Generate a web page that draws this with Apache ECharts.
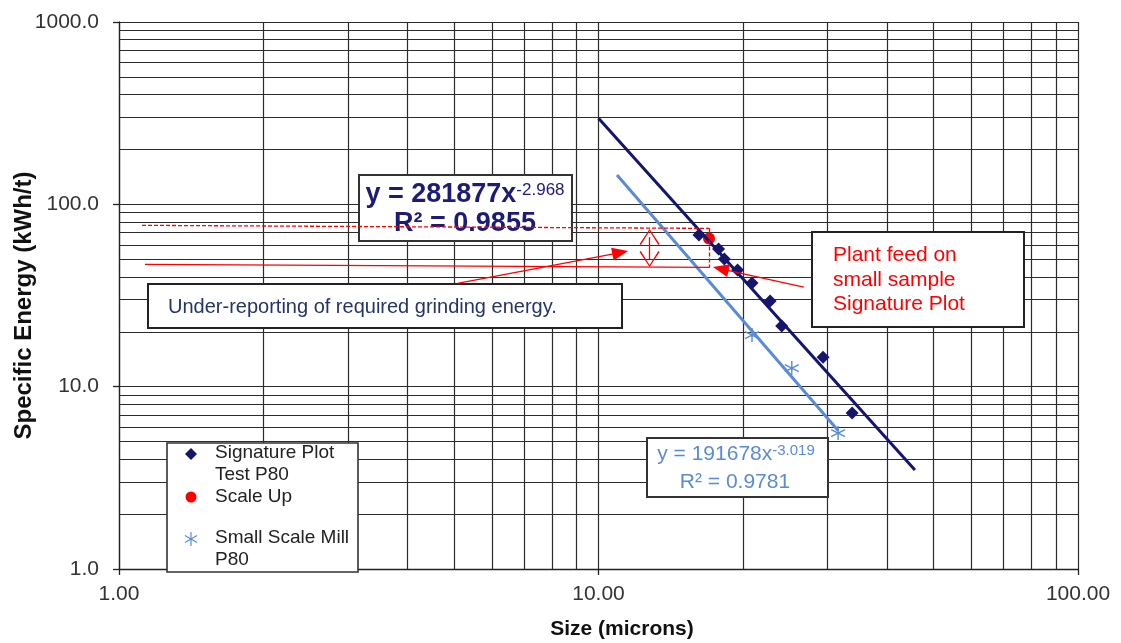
<!DOCTYPE html>
<html>
<head>
<meta charset="utf-8">
<script src="https://cdn.jsdelivr.net/npm/echarts@6/dist/echarts.min.js"></script>
<style>html,body{margin:0;padding:0;background:#fff}#c{width:1121px;height:643px}</style>
</head>
<body>
<div id="c"></div>
<script>
// ---- data ----
const sigSize   = [16.2, 17.8, 18.3, 19.5, 20.9, 22.8, 24.1, 29.4, 33.8];
const sigEnergy = [67.9, 56.9, 50.1, 43.6, 37.0, 29.5, 21.5, 14.5, 7.16];
const scaleUpSize   = [17.0];
const scaleUpEnergy = [65.0];
const smallSize   = [20.9, 25.3, 31.6];
const smallEnergy = [19.2, 12.65, 5.57];
// trend line end points (as drawn)
const sigFitSize   = [10.0, 45.7];
const sigFitEnergy = [297, 3.49];
const smallFitSize   = [10.93, 31.6];
const smallFitEnergy = [144.7, 5.75];
// axis ticks / minor grid values
const xMinor = [2,3,4,5,6,7,8,9,20,30,40,50,60,70,80,90];
const yMinor = [2,3,4,5,6,7,8,9,20,30,40,50,60,70,80,90,200,300,400,500,600,700,800,900];
// annotation geometry in data coordinates
const dashedH = [[1.117, 76.7], [17.05, 73.8]];
const dashedV = [[17.05, 73.8], [17.05, 45.1]];
const solidH  = [[1.133, 46.8], [17.05, 45.1]];
const arrowUnder = [[5.08, 36.9], [11.1, 54.4]];
const arrowPlant = [[26.8, 35.1], [17.99, 44.3]];
const dblArrow = [[12.78, 66.1], [12.78, 50.1]];

const zip = (a, b) => a.map((v, i) => [v, b[i]]);
const FONT = 'Liberation Sans, Arial, sans-serif';
const NAVY = '#15156e';
const LBLUE = '#5a8bd5';
const RED = '#ff0000';
const asterisk = 'path://M5,0L5,10M0.7,2.5L9.3,7.5M0.7,7.5L9.3,2.5';
const vHead = 'path://M10,0L0,15L1.2,16L10,2L18.8,16L20,15Z';

const chart = echarts.init(document.getElementById('c'), null, {renderer: 'canvas'});

function seg(p, opts) {
  return [Object.assign({coord: p[0], symbol: 'none'}, opts.start || {}, {lineStyle: opts.lineStyle}),
          Object.assign({coord: p[1], symbol: 'none'}, opts.end || {})];
}

const option = {
  animation: false,
  backgroundColor: '#fff',
  textStyle: {fontFamily: FONT},
  grid: {left: 119, right: 43, top: 22, bottom: 74, outerBoundsMode: 'none', containLabel: false},
  xAxis: {
    type: 'log', logBase: 10, min: 1, max: 100, z: 0,
    axisLine: {show: true, onZero: false, lineStyle: {color: '#222', width: 1.3}},
    axisTick: {show: true, length: 6, lineStyle: {color: '#222', width: 1.3}},
    axisLabel: {formatter: v => Number(v).toFixed(2), fontSize: 21, color: '#333', margin: 15, fontFamily: FONT},
    splitLine: {show: true, lineStyle: {color: '#2b2b2b', width: 1.2}},
    minorTick: {show: false}, minorSplitLine: {show: false},
    name: 'Size (microns)', nameLocation: 'middle', nameGap: 50, nameMoveOverlap: false,
    nameTextStyle: {fontSize: 21, fontWeight: 'bold', color: '#111', fontFamily: FONT, padding: [0, 0, 0, 47]}
  },
  yAxis: {
    type: 'log', logBase: 10, min: 1, max: 1000, z: 0,
    axisLine: {show: true, onZero: false, lineStyle: {color: '#222', width: 1.3}},
    axisTick: {show: true, length: 6, lineStyle: {color: '#222', width: 1.3}},
    axisLabel: {formatter: v => Number(v).toFixed(1), fontSize: 21, color: '#333', margin: 20, fontFamily: FONT},
    splitLine: {show: true, lineStyle: {color: '#2b2b2b', width: 1.2}},
    minorTick: {show: false}, minorSplitLine: {show: false},
    name: 'Specific Energy (kWh/t)', nameLocation: 'middle', nameGap: 83, nameRotate: 90, nameMoveOverlap: false,
    nameTextStyle: {fontSize: 24, fontWeight: 'bold', color: '#111', fontFamily: FONT, padding: [0, 20, 0, 0]}
  },
  series: [
    {
      name: 'grid', type: 'line', data: [], z: 1, silent: true,
      markLine: {
        z: 1, silent: true, symbol: 'none', animation: false,
        label: {show: false},
        lineStyle: {color: '#2b2b2b', width: 1.2, type: 'solid'},
        emphasis: {disabled: true},
        data: xMinor.map(v => ({xAxis: v})).concat(yMinor.map(v => ({yAxis: v})))
      }
    },
    {
      name: 'Scale Up', type: 'scatter', data: zip(scaleUpSize, scaleUpEnergy), z: 4,
      symbol: 'circle', symbolSize: 12, itemStyle: {color: RED, opacity: 1}
    },
    {
      name: 'Signature fit', type: 'line', data: zip(sigFitSize, sigFitEnergy), z: 5,
      symbol: 'none', lineStyle: {color: NAVY, width: 3, type: 'solid', opacity: 1}
    },
    {
      name: 'Small fit', type: 'line', data: zip(smallFitSize, smallFitEnergy), z: 5,
      symbol: 'none', lineStyle: {color: LBLUE, width: 3, type: 'solid', opacity: 1}
    },
    {
      name: 'Signature Plot Test P80', type: 'scatter', data: zip(sigSize, sigEnergy), z: 6,
      symbol: 'diamond', symbolSize: 13, itemStyle: {color: NAVY, opacity: 1}
    },
    {
      name: 'Small Scale Mill P80', type: 'scatter', data: zip(smallSize, smallEnergy), z: 6,
      symbol: asterisk, symbolSize: 14,
      itemStyle: {color: 'none', borderColor: LBLUE, borderWidth: 1.4, opacity: 1}
    },
    {
      name: 'annotations', type: 'line', data: [], z: 10, silent: true,
      markLine: {
        z: 10, silent: true, animation: false, label: {show: false},
        emphasis: {disabled: true},
        lineStyle: {color: RED, width: 1.3, type: 'solid'},
        data: [
          seg(dashedH, {lineStyle: {color: RED, width: 1.3, type: [4, 2]}}),
          seg(dashedV, {lineStyle: {color: RED, width: 1.3, type: [4, 2]}}),
          seg(solidH, {lineStyle: {color: RED, width: 1.3, type: 'solid'}}),
          seg(arrowUnder, {lineStyle: {color: RED, width: 1.3, type: 'solid'}, end: {symbol: 'triangle', symbolSize: [13, 16]}}),
          seg(arrowPlant, {lineStyle: {color: RED, width: 1.3, type: 'solid'}, end: {symbol: 'triangle', symbolSize: [13, 16]}}),
          seg(dblArrow, {lineStyle: {color: RED, width: 1.3, type: 'solid'},
                         start: {symbol: vHead, symbolSize: [20, 16]}, end: {symbol: vHead, symbolSize: [20, 16]}})
        ]
      }
    }
  ],
  graphic: [
    // dark trend equation box
    {type: 'rect', z: 2, shape: {x: 359, y: 175, width: 213, height: 66}, style: {fill: '#fff', stroke: '#333', lineWidth: 2}},
    {type: 'text', z: 3, x: 465, y: 193, style: {
      text: '{a|y = 281877x}{s|-2.968}', align: 'center', verticalAlign: 'middle',
      rich: {a: {fontSize: 27, fontWeight: 'bold', fill: '#1c1c78', fontFamily: FONT, lineHeight: 30, verticalAlign: 'bottom'},
             s: {fontSize: 17, fill: '#1c1c78', fontFamily: FONT, lineHeight: 30, verticalAlign: 'top', padding: [4, 0, 0, 0]}}}},
    {type: 'text', z: 3, x: 465, y: 224, style: {
      text: 'R² = 0.9855', align: 'center', verticalAlign: 'middle', fontSize: 27, fontWeight: 'bold', fill: '#1c1c78', fontFamily: FONT}},
    // under-reporting box
    {type: 'rect', z: 2, shape: {x: 148, y: 284, width: 474, height: 44}, style: {fill: '#fff', stroke: '#222', lineWidth: 2}},
    {type: 'text', z: 3, x: 168, y: 307, style: {
      text: 'Under-reporting of required grinding energy.', align: 'left', verticalAlign: 'middle', fontSize: 20, fill: '#243465', fontFamily: FONT}},
    // plant feed box
    {type: 'rect', z: 2, shape: {x: 812, y: 232, width: 212, height: 95}, style: {fill: '#fff', stroke: '#222', lineWidth: 2}},
    {type: 'text', z: 3, x: 833, y: 280, style: {
      text: 'Plant feed on\nsmall sample\nSignature Plot', align: 'left', verticalAlign: 'middle', fontSize: 21, lineHeight: 24.5, fill: RED, fontFamily: FONT}},
    // light-blue equation box
    {type: 'rect', z: 2, shape: {x: 647, y: 438, width: 181, height: 59}, style: {fill: '#fff', stroke: '#333', lineWidth: 2}},
    {type: 'text', z: 3, x: 736, y: 453, style: {
      text: '{a|y = 191678x}{s|-3.019}', align: 'center', verticalAlign: 'middle',
      rich: {a: {fontSize: 21, fill: LBLUE, fontFamily: FONT, lineHeight: 24, verticalAlign: 'bottom'},
             s: {fontSize: 15, fill: LBLUE, fontFamily: FONT, lineHeight: 24, verticalAlign: 'top', padding: [2, 0, 0, 0]}}}},
    {type: 'text', z: 3, x: 735, y: 482, style: {
      text: 'R² = 0.9781', align: 'center', verticalAlign: 'middle', fontSize: 21, fill: LBLUE, fontFamily: FONT}},
    // legend box
    {type: 'rect', z: 2, shape: {x: 167, y: 443, width: 191, height: 129}, style: {fill: '#fff', stroke: '#333', lineWidth: 1.6}},
    {type: 'polygon', z: 3, shape: {points: [[191, 448], [197, 454], [191, 460], [185, 454]]}, style: {fill: NAVY}},
    {type: 'circle', z: 3, shape: {cx: 191, cy: 497, r: 5.5}, style: {fill: RED}},
    {type: 'line', z: 3, shape: {x1: 191, y1: 532, x2: 191, y2: 546}, style: {stroke: LBLUE, lineWidth: 1.2}},
    {type: 'line', z: 3, shape: {x1: 185, y1: 535.5, x2: 197, y2: 542.5}, style: {stroke: LBLUE, lineWidth: 1.2}},
    {type: 'line', z: 3, shape: {x1: 185, y1: 542.5, x2: 197, y2: 535.5}, style: {stroke: LBLUE, lineWidth: 1.2}},
    {type: 'text', z: 3, x: 215, y: 464, style: {
      text: 'Signature Plot\nTest P80', align: 'left', verticalAlign: 'middle', fontSize: 19, lineHeight: 21.5, fill: '#222', fontFamily: FONT}},
    {type: 'text', z: 3, x: 215, y: 497, style: {
      text: 'Scale Up', align: 'left', verticalAlign: 'middle', fontSize: 19, fill: '#222', fontFamily: FONT}},
    {type: 'text', z: 3, x: 215, y: 549, style: {
      text: 'Small Scale Mill\nP80', align: 'left', verticalAlign: 'middle', fontSize: 19, lineHeight: 21.5, fill: '#222', fontFamily: FONT}}
  ]
};
chart.setOption(option);
</script>
</body>
</html>
